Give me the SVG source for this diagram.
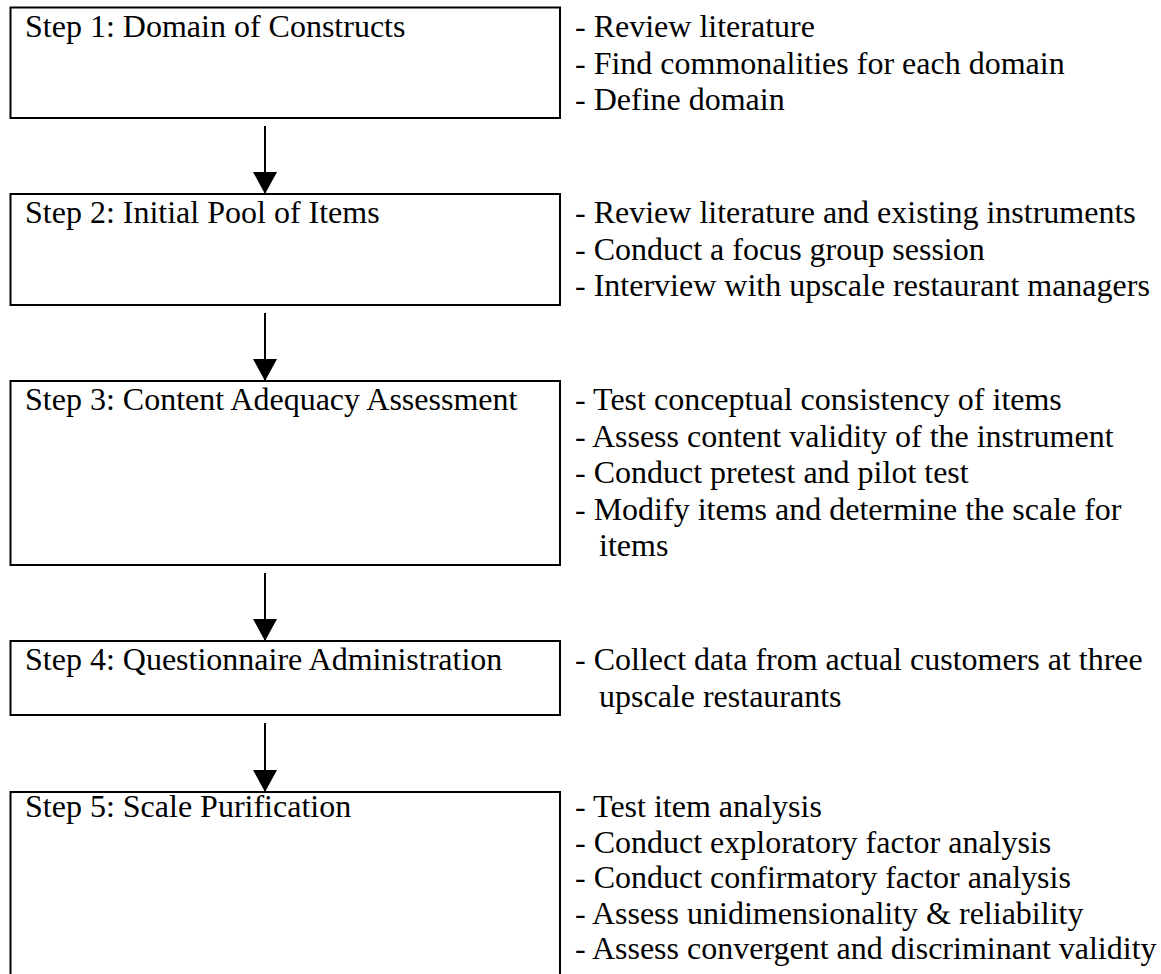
<svg xmlns="http://www.w3.org/2000/svg" width="1161" height="974" viewBox="0 0 1161 974">
  <defs>
    <style>
      .box { fill: #fff; stroke: #000; stroke-width: 2; }
      .title { font-family: "Liberation Serif", "Times New Roman", serif; font-size: 32px; fill: #000; }
      .note { font-family: "Liberation Serif", "Times New Roman", serif; font-size: 32px; fill: #000; }
      .link { stroke: #000; stroke-width: 2; fill: none; marker-end: url(#arrowhead); }
    </style>
    <marker id="arrowhead" markerUnits="userSpaceOnUse" markerWidth="24" markerHeight="24" viewBox="0 0 24 24" refX="22" refY="12" orient="auto">
      <path d="M0,0 L22,12 L0,24 z" fill="#000"/>
    </marker>
  </defs>
  <rect width="1161" height="974" fill="#fff"/>

  <!-- step boxes with their activity lists -->
  <g id="step1">
    <rect class="box" x="10.5" y="7.5" width="549.5" height="110.5"/>
    <text class="title" x="25" y="37">Step 1: Domain of Constructs</text>
    <text class="note" x="575" y="37">- Review literature</text>
    <text class="note" x="575" y="73.5">- Find commonalities for each domain</text>
    <text class="note" x="575" y="110">- Define domain</text>
  </g>

  <g id="step2">
    <rect class="box" x="10.5" y="194" width="549.5" height="111"/>
    <text class="title" x="25" y="223">Step 2: Initial Pool of Items</text>
    <text class="note" x="575" y="223">- Review literature and existing instruments</text>
    <text class="note" x="575" y="259.5">- Conduct a focus group session</text>
    <text class="note" x="575" y="296">- Interview with upscale restaurant managers</text>
  </g>

  <g id="step3">
    <rect class="box" x="10.5" y="381" width="549.5" height="184"/>
    <text class="title" x="25" y="410">Step 3: Content Adequacy Assessment</text>
    <text class="note" x="575" y="410">- Test conceptual consistency of items</text>
    <text class="note" x="575" y="446.5">- Assess content validity of the instrument</text>
    <text class="note" x="575" y="483">- Conduct pretest and pilot test</text>
    <text class="note" x="575" y="519.5">- Modify items and determine the scale for</text>
    <text class="note" x="599" y="556">items</text>
  </g>

  <g id="step4">
    <rect class="box" x="10.5" y="641" width="549.5" height="74"/>
    <text class="title" x="25" y="670">Step 4: Questionnaire Administration</text>
    <text class="note" x="575" y="670">- Collect data from actual customers at three</text>
    <text class="note" x="599" y="706.5">upscale restaurants</text>
  </g>

  <g id="step5">
    <rect class="box" x="10.5" y="792" width="549.5" height="200"/>
    <text class="title" x="25" y="817">Step 5: Scale Purification</text>
    <text class="note" x="575" y="817">- Test item analysis</text>
    <text class="note" x="575" y="852.5">- Conduct exploratory factor analysis</text>
    <text class="note" x="575" y="888">- Conduct confirmatory factor analysis</text>
    <text class="note" x="575" y="923.5">- Assess unidimensionality &amp; reliability</text>
    <text class="note" x="575" y="959">- Assess convergent and discriminant validity</text>
  </g>

  <!-- downward flow between steps -->
  <g id="connectors">
    <line class="link" x1="265" y1="126" x2="265" y2="194"/>
    <line class="link" x1="265" y1="313" x2="265" y2="381"/>
    <line class="link" x1="265" y1="573" x2="265" y2="641"/>
    <line class="link" x1="265" y1="723" x2="265" y2="792"/>
  </g>
</svg>
